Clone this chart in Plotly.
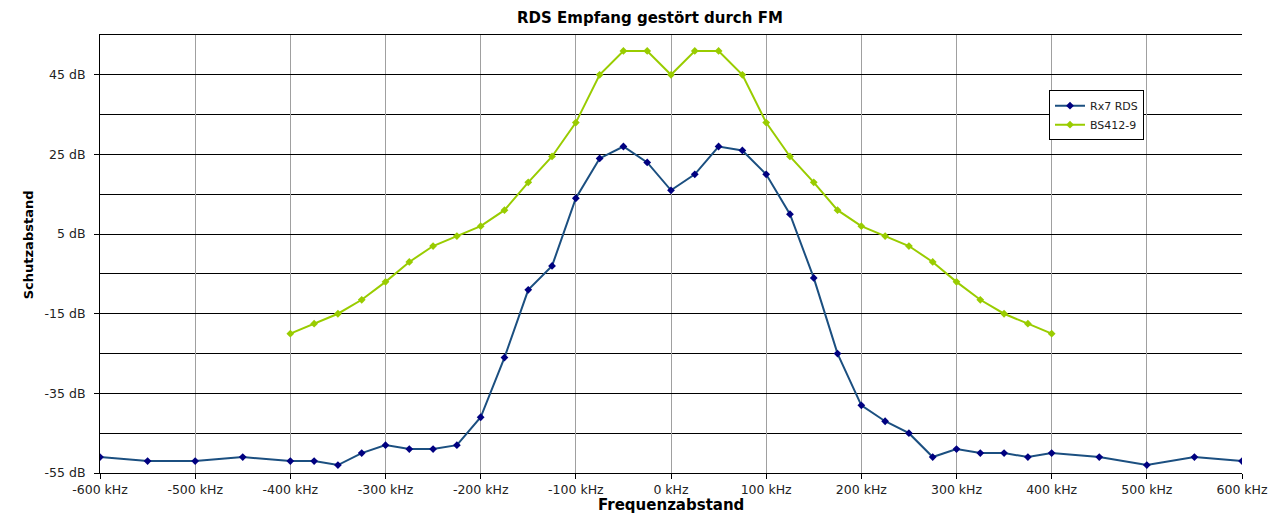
import plotly.graph_objects as go

# Frequency offsets (kHz)
freq_rx7 = [-600, -550, -500, -450, -400, -375, -350, -325, -300, -275, -250, -225,
            -200, -175, -150, -125, -100, -75, -50, -25, 0, 25, 50, 75, 100, 125,
            150, 175, 200, 225, 250, 275, 300, 325, 350, 375, 400, 450, 500, 550, 600]
# Measured protection ratio of the Rx7 RDS receiver (dB)
rx7_rds = [-51, -52, -52, -51, -52, -52, -53, -50, -48, -49, -49, -48,
           -41, -26, -9, -3, 14, 24, 27, 23, 16, 20, 27, 26, 20, 10,
           -6, -25, -38, -42, -45, -51, -49, -50, -50, -51, -50, -51, -53, -51, -52]

freq_bs412 = [-400, -375, -350, -325, -300, -275, -250, -225, -200, -175, -150, -125,
              -100, -75, -50, -25, 0, 25, 50, 75, 100, 125, 150, 175, 200, 225,
              250, 275, 300, 325, 350, 375, 400]
# ITU-R BS.412-9 protection ratio curve (dB)
bs412_9 = [-20, -17.5, -15, -11.5, -7, -2, 2, 4.5, 7, 11, 18, 24.5,
           33, 45, 51, 51, 45, 51, 51, 45, 33, 24.5, 18, 11, 7, 4.5,
           2, -2, -7, -11.5, -15, -17.5, -20]

x_ticks = list(range(-600, 601, 100))
x_ticktext = [f"{v} kHz" for v in x_ticks]
y_ticks = [-55, -35, -15, 5, 25, 45]
y_ticktext = [f"{v} dB" for v in y_ticks]
y_minor = [-45, -25, -5, 15, 35]

FONT = "DejaVu Sans, Verdana, sans-serif"

fig = go.Figure()
fig.add_trace(go.Scatter(
    x=freq_rx7, y=rx7_rds, name="Rx7 RDS", mode="lines+markers",
    line=dict(color="#1b4f80", width=2),
    marker=dict(symbol="diamond", size=6, color="#000080"),
))
fig.add_trace(go.Scatter(
    x=freq_bs412, y=bs412_9, name="BS412-9", mode="lines+markers",
    line=dict(color="#99cc00", width=2),
    marker=dict(symbol="diamond", size=6, color="#99cc00"),
))

fig.update_layout(
    width=1279, height=516,
    margin=dict(l=100, r=37, t=35, b=43),
    paper_bgcolor="white", plot_bgcolor="white",
    font=dict(family=FONT, size=12.5, color="#222222"),
    showlegend=True,
    legend=dict(
        x=0.831, y=0.874, xanchor="left", yanchor="top",
        bgcolor="white", bordercolor="black", borderwidth=1,
        font=dict(family=FONT, size=11, color="#222222"),
        itemwidth=30, tracegroupgap=0,
    ),
    xaxis=dict(
        range=[-600, 600], tickvals=x_ticks, ticktext=x_ticktext,
        showgrid=True, gridcolor="#a0a0a0", gridwidth=1,
        showline=True, linecolor="black", linewidth=1, mirror=True,
        ticks="outside", ticklen=5, tickcolor="black",
        zeroline=False,
    ),
    yaxis=dict(
        range=[-55, 55], tickvals=y_ticks, ticktext=y_ticktext,
        showgrid=True, gridcolor="black", gridwidth=1,
        showline=True, linecolor="black", linewidth=1, mirror=False,
        ticks="outside", ticklen=5, tickcolor="black",
        ticklabelstandoff=6,
        zeroline=False,
        minor=dict(tickvals=y_minor, showgrid=True, gridcolor="black",
                   gridwidth=1, ticks=""),
    ),
    annotations=[
        dict(text="<b>RDS Empfang gestört durch FM</b>", xref="paper", yref="paper",
             x=0.4816, y=1, xanchor="center", yanchor="middle", yshift=17,
             showarrow=False,
             font=dict(family=FONT, size=15, color="black")),
        dict(text="<b>Schutzabstand</b>", xref="paper", yref="paper",
             x=0, xshift=-72, y=0.52, xanchor="center", yanchor="middle",
             textangle=-90, showarrow=False,
             font=dict(family=FONT, size=13, color="black")),
        dict(text="<b>Frequenzabstand</b>", xref="paper", yref="paper",
             x=0.5, y=0, xanchor="center", yanchor="middle", yshift=-32,
             showarrow=False,
             font=dict(family=FONT, size=15, color="black")),
    ],
)

fig.write_html("out.html")
